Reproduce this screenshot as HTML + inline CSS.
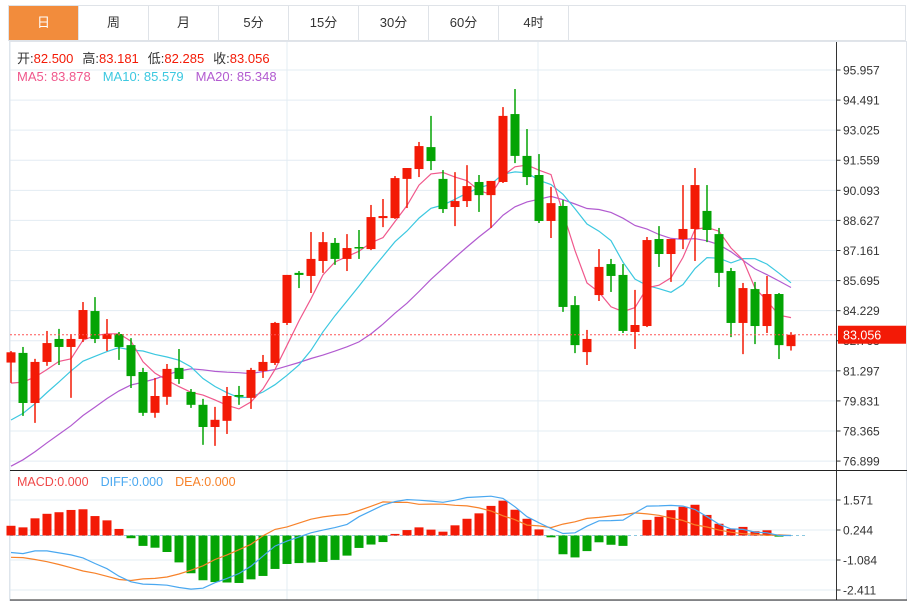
<!DOCTYPE html>
<html><head><meta charset="utf-8">
<style>
body{margin:0;background:#fff;width:916px;height:603px;overflow:hidden;font-family:"Liberation Sans","Noto Sans CJK SC",sans-serif;}
#tabs{position:absolute;left:8px;top:5px;height:36px;width:898px;border:1px solid #dfe3e8;border-bottom:1px solid #dfe3e8;box-sizing:border-box;display:flex;}
.tab{width:70px;height:34px;border-right:1px solid #dfe3e8;text-align:center;line-height:34px;font-size:13px;color:#333;box-sizing:border-box;}
.tab.on{background:#f28c3c;color:#fff;}
svg{position:absolute;left:0;top:0;}
</style></head><body>
<div id="tabs">
<div class="tab on">日</div>
<div class="tab">周</div>
<div class="tab">月</div>
<div class="tab">5分</div>
<div class="tab">15分</div>
<div class="tab">30分</div>
<div class="tab">60分</div>
<div class="tab">4时</div>
</div>
<svg id="chart" width="916" height="603"></svg>
<script>
const opens=[81.70,82.17,79.73,81.73,82.85,82.46,82.85,84.21,82.85,83.09,82.55,81.24,79.25,80.03,81.44,80.27,79.64,78.56,78.86,80.12,79.98,81.29,81.68,83.63,86.07,85.92,86.65,87.53,86.75,87.33,87.23,88.74,88.74,90.65,91.13,92.20,90.65,89.28,89.57,90.50,89.86,90.50,93.81,91.77,90.84,88.60,89.33,84.50,82.21,84.99,86.50,85.97,83.19,83.48,87.72,86.99,87.72,88.21,89.09,87.96,86.16,83.63,85.28,83.48,85.04,82.500];
const closes=[82.20,79.73,81.73,82.65,82.46,82.85,84.26,82.85,83.09,82.46,81.04,79.25,80.07,81.39,80.90,79.64,78.56,78.91,80.07,80.03,81.34,81.73,83.63,85.97,85.97,86.75,87.57,86.75,87.28,87.28,88.79,88.84,90.69,91.18,92.25,91.52,89.18,89.57,90.30,89.86,90.55,93.72,91.77,90.74,88.60,89.47,84.41,82.55,82.85,86.36,85.92,83.24,83.53,87.67,86.99,87.72,88.21,90.35,88.16,86.07,83.63,85.33,83.48,85.04,82.55,83.056];
const highs=[82.26,82.46,81.88,83.24,83.34,83.09,84.65,84.89,83.82,83.19,82.89,81.44,80.95,81.63,82.36,80.41,79.93,79.54,80.51,80.56,81.44,82.07,83.68,85.97,86.16,88.06,88.06,87.77,87.96,88.16,89.38,89.67,90.79,91.18,92.45,93.72,91.08,90.98,91.32,90.84,90.55,94.15,95.03,93.08,91.86,90.26,89.62,84.94,83.29,87.23,86.75,86.50,85.24,87.82,88.35,87.72,90.35,91.18,90.35,88.26,86.31,85.58,85.63,85.92,85.09,83.181];
const lows=[80.71,79.10,78.76,81.54,81.58,79.98,82.70,82.65,82.26,81.83,80.46,79.10,79.01,79.64,80.66,79.49,77.69,77.64,78.22,79.64,79.44,80.95,81.58,83.53,85.33,85.09,86.07,86.46,86.16,86.75,87.18,88.30,88.70,89.23,90.74,91.08,88.99,88.35,89.28,89.04,88.26,90.45,91.42,90.35,88.50,87.77,84.17,82.16,81.58,84.70,85.14,83.14,82.36,83.43,86.36,85.63,87.23,86.65,87.57,85.38,82.94,82.11,82.60,83.14,81.87,82.285];
const priorCloses=[73.5,73.8,74,74.2,74.5,74.3,74.6,74.8,75,75.3,76.5,77,77.2,77.3,77.5,79.5,80.5,80.8,80.5];
const macdHist=[0.43,0.36,0.76,0.96,1.03,1.13,1.16,0.86,0.67,0.29,-0.12,-0.46,-0.54,-0.73,-1.19,-1.67,-1.98,-2.06,-2.08,-2.10,-1.94,-1.79,-1.48,-1.26,-1.22,-1.20,-1.17,-1.08,-0.89,-0.55,-0.40,-0.29,0.07,0.24,0.36,0.26,0.17,0.45,0.74,0.98,1.31,1.54,1.14,0.74,0.27,-0.08,-0.83,-0.97,-0.69,-0.30,-0.41,-0.46,0,0.69,0.83,1.12,1.27,1.36,0.91,0.52,0.29,0.38,0.19,0.23,-0.05,0];
const diffLine=[-0.75,-0.80,-0.68,-0.68,-0.77,-0.86,-0.99,-1.24,-1.47,-1.80,-2.05,-2.15,-2.17,-2.20,-2.30,-2.37,-2.33,-2.09,-1.90,-1.68,-1.36,-0.91,-0.47,-0.25,-0.06,0.12,0.24,0.35,0.49,0.83,1.09,1.34,1.50,1.59,1.56,1.52,1.47,1.56,1.68,1.71,1.74,1.64,1.27,0.83,0.56,0.31,0.09,0.12,0.41,0.65,0.66,0.68,1.00,1.30,1.31,1.33,1.30,1.15,0.83,0.50,0.29,0.27,0.15,0.12,0,0];
const priceTicks=[95.957,94.491,93.025,91.559,90.093,88.627,87.161,85.695,84.229,82.763,81.297,79.831,78.365,76.899];
const macdTicks=[1.571,0.244,-1.084,-2.411];
const lastPrice=83.056;

const NS="http://www.w3.org/2000/svg";
const svg=document.getElementById('chart');
function el(t,a,p){const e=document.createElementNS(NS,t);for(const k in a)e.setAttribute(k,a[k]);(p||svg).appendChild(e);return e;}
const X0=11,DX=12,AXIS=836.5;
const xs=i=>X0+i*DX;
const yP=v=>70+(95.957-v)*20.52;
const yM=v=>535.5-v*22.6;
const RED="#f31a06",GREEN="#04a404";

// frame
let f=el('rect',{x:9.5,y:41.5,width:897,height:559,fill:'none',stroke:'#e0e4ea'});

// grids
priceTicks.forEach(t=>{let l=el('line',{x1:10,x2:AXIS,y1:yP(t),y2:yP(t),stroke:'#e3ecf3'});
});
macdTicks.forEach(t=>{let l=el('line',{x1:10,x2:AXIS,y1:yM(t),y2:yM(t),stroke:'#e3ecf3'});
});
[287,538].forEach(x=>{let l=el('line',{x1:x,x2:x,y1:42,y2:600,stroke:'#e3ecf3'});
});
let lv=el('line',{x1:10,x2:10,y1:42,y2:600,stroke:'#dde6ee'});

// axes
let ax=el('line',{x1:AXIS,x2:AXIS,y1:42,y2:600,stroke:'#333'});

let sep=el('line',{x1:10,x2:907,y1:470.5,y2:470.5,stroke:'#222'});

let bot=el('line',{x1:10,x2:907,y1:600,y2:600,stroke:'#222'});

priceTicks.forEach(t=>{const y=yP(t);
let tk=el('line',{x1:AXIS,x2:AXIS+4,y1:y,y2:y,stroke:'#333'});

let tx=el('text',{x:843,y:y+4.5,'font-size':12,fill:'#333'});tx.textContent=t.toFixed(3);
});
macdTicks.forEach(t=>{const y=yM(t);
let tk=el('line',{x1:AXIS,x2:AXIS+4,y1:y,y2:y,stroke:'#333'});

let tx=el('text',{x:843,y:y+4.5,'font-size':12,fill:'#333'});tx.textContent=t.toFixed(3);
});

// MAs
const all=priorCloses.concat(closes);
function ma(n){return closes.map((c,i)=>{let s=0;const j=i+priorCloses.length;for(let k=j-n+1;k<=j;k++)s+=all[k];return s/n;});}
[[20,'#b25bd0','ma20-line'],[10,'#3cc8e0','ma10-line'],[5,'#f0588c','ma5-line']].forEach(([n,c,name])=>{
const m=ma(n);const pts=m.map((v,i)=>xs(i)+','+yP(v).toFixed(1)).join(' ');
let p=el('polyline',{points:pts,fill:'none',stroke:c,'stroke-width':1.2});
});

// candles
closes.forEach((c,i)=>{const o=opens[i],up=c>=o,col=up?RED:GREEN,x=xs(i);
const g=el('g',{});
el('line',{x1:x,x2:x,y1:yP(highs[i]),y2:yP(lows[i]),stroke:col,'stroke-width':1.5},g);
const t=yP(Math.max(o,c)),b=yP(Math.min(o,c));
el('rect',{x:x-4.5,y:t,width:9,height:Math.max(1.5,b-t),fill:col},g);});

// last price line + label
const yl=yP(lastPrice);
let dl=el('line',{x1:10,x2:AXIS,y1:yl,y2:yl,stroke:'#f55','stroke-dasharray':'2,2'});

let lb=el('rect',{x:838,y:yl-9,width:68,height:18,fill:'#f31a06'});

let lt=el('text',{x:843,y:yl+5,'font-size':12.5,fill:'#fff'});lt.textContent=lastPrice.toFixed(3);


// MACD
let z=el('line',{x1:10,x2:806,y1:yM(0),y2:yM(0),stroke:'#8cc8e0','stroke-dasharray':'3,3'});

macdHist.forEach((v,i)=>{if(Math.abs(v)<0.005)return;const y0=yM(0),y1=yM(v);
let r=el('rect',{x:xs(i)-4.5,y:Math.min(y0,y1),width:9,height:Math.max(1,Math.abs(y1-y0)),fill:v>0?RED:GREEN});
});
const dea=diffLine.map((d,i)=>d-macdHist[i]/2);
let pd=el('polyline',{points:dea.map((v,i)=>xs(i)+','+yM(v).toFixed(1)).join(' '),fill:'none',stroke:'#f7822a','stroke-width':1.2});

let pf=el('polyline',{points:diffLine.map((v,i)=>xs(i)+','+yM(v).toFixed(1)).join(' '),fill:'none',stroke:'#4aa8f0','stroke-width':1.2});

</script>
<svg width="916" height="603" style="pointer-events:none">
<g font-size="13" font-family="Liberation Sans, Noto Sans CJK SC, sans-serif">
<text x="17" y="63"><tspan fill="#333">开:</tspan><tspan fill="#f31a06">82.500</tspan><tspan fill="#333" dx="9">高:</tspan><tspan fill="#f31a06">83.181</tspan><tspan fill="#333" dx="9">低:</tspan><tspan fill="#f31a06">82.285</tspan><tspan fill="#333" dx="9">收:</tspan><tspan fill="#f31a06">83.056</tspan></text>
<text x="17" y="81"><tspan fill="#f0588c">MA5: 83.878</tspan><tspan fill="#3cc8e0" dx="12">MA10: 85.579</tspan><tspan fill="#b25bd0" dx="12">MA20: 85.348</tspan></text>
<text x="17" y="486" font-size="12.5"><tspan fill="#f04848">MACD:0.000</tspan><tspan fill="#4aa8f0" dx="12">DIFF:0.000</tspan><tspan fill="#f7822a" dx="12">DEA:0.000</tspan></text>
</g></svg>
</body></html>
